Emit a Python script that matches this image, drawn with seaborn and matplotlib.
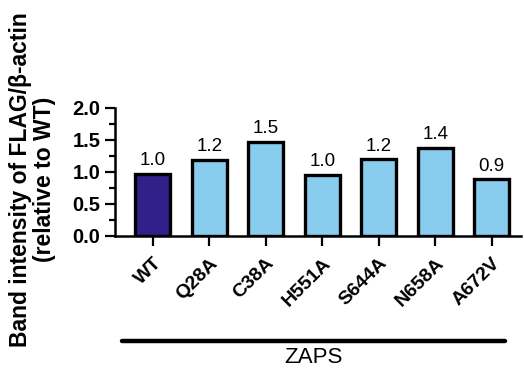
import numpy as np
import pandas as pd
import matplotlib
matplotlib.use("Agg")
import matplotlib.pyplot as plt
import matplotlib.transforms as mtransforms
import seaborn as sns

# Data
mutants = ["WT", "Q28A", "C38A", "H551A", "S644A", "N658A", "A672V"]
intensity = [0.97, 1.19, 1.47, 0.96, 1.20, 1.38, 0.89]
bar_colors = ["#31208A", "#88CCEE", "#88CCEE", "#88CCEE", "#88CCEE", "#88CCEE", "#88CCEE"]

sns.set_theme(style="ticks")
plt.rcParams['font.family'] = ['Liberation Sans', 'DejaVu Sans']
plt.rcParams['text.color'] = 'black'
plt.rcParams['xtick.color'] = 'black'
plt.rcParams['ytick.color'] = 'black'
plt.rcParams['axes.labelcolor'] = 'black'
plt.rcParams['axes.edgecolor'] = 'black'

df = pd.DataFrame({"mutant": mutants, "intensity": intensity})

fig = plt.figure(figsize=(5.24, 3.71), dpi=100)
ax = fig.add_axes([0.2195, 0.364, 0.775, 0.345])

sns.barplot(data=df, x="mutant", y="intensity", hue="mutant", palette=bar_colors,
            legend=False, width=0.62, edgecolor="black", linewidth=2.4, ax=ax,
            saturation=1)

for i, v in enumerate(intensity):
    ax.text(i, v + 0.07, f"{v:.1f}", ha="center", va="bottom", fontsize=13.5)

ax.set_ylim(0, 2.0)
ax.set_xlim(-0.67, 6.52)
ax.set_yticks(np.arange(0, 2.01, 0.5))
ax.set_yticks(np.arange(0, 2.01, 0.25), minor=True)
ax.set_yticklabels([f"{t:.1f}" for t in np.arange(0, 2.01, 0.5)], fontsize=14.5, fontweight="bold")
ax.set_xticks(range(len(mutants)))
ax.set_xticklabels(mutants, rotation=45, ha="right", rotation_mode="anchor",
                   fontsize=14, fontweight="bold")
ax.tick_params(axis="both", which="major", length=7.5, width=1.6, direction="out")
ax.tick_params(axis="y", which="major", pad=3)
ax.tick_params(axis="y", which="minor", length=4.5, width=1.6)
ax.tick_params(axis="x", pad=6)

for s in ["left", "bottom"]:
    ax.spines[s].set_linewidth(1.8)
sns.despine(ax=ax)

ax.set_xlabel("")
ax.set_ylabel("Band intensity of FLAG/β-actin\n(relative to WT)", fontsize=16.5,
              fontweight="bold", linespacing=1.05)
ax.yaxis.set_label_coords(-0.145, 0.44)

# ZAPS group bar
trans = mtransforms.blended_transform_factory(ax.transData, ax.transAxes)
ax.plot([-0.55, 6.23], [-0.82, -0.82], color="black", linewidth=3.2,
        solid_capstyle="round", transform=trans, clip_on=False)
ax.text(2.84, -0.87, "ZAPS", ha="center", va="top", fontsize=16, transform=trans)

fig.savefig("out.png", dpi=100)
